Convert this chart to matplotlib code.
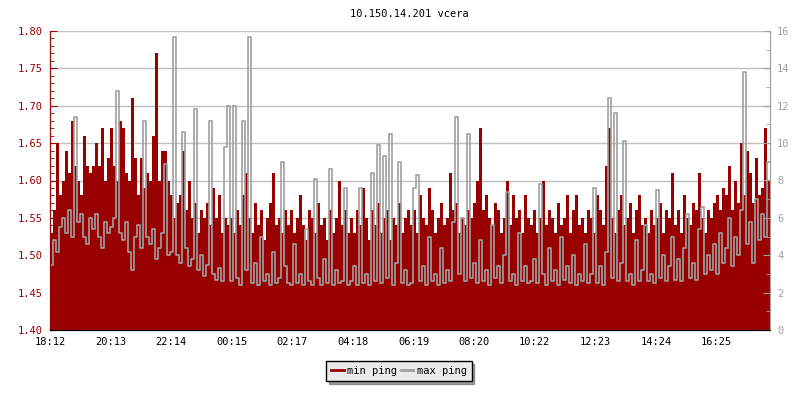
import numpy as np
import matplotlib
matplotlib.use('Agg')
import matplotlib.pyplot as plt
from matplotlib.ticker import MultipleLocator

# one sample every 6 minutes, starting 18:12 (240 samples = 24h)
min_ping = [
    1.53, 1.56, 1.65, 1.58, 1.60, 1.64, 1.61, 1.68, 1.62, 1.60, 1.58, 1.66, 1.62, 1.61, 1.62, 1.65, 1.62, 1.67, 1.60, 1.63,
    1.67, 1.62, 1.60, 1.68, 1.67, 1.61, 1.60, 1.71, 1.63, 1.58, 1.63, 1.59, 1.61, 1.60, 1.66, 1.77, 1.60, 1.64, 1.64, 1.60,
    1.58, 1.55, 1.57, 1.58, 1.64, 1.56, 1.60, 1.55, 1.57, 1.53, 1.56, 1.55, 1.57, 1.54, 1.59, 1.55, 1.58, 1.53, 1.55, 1.54,
    1.55, 1.53, 1.56, 1.54, 1.58, 1.61, 1.55, 1.53, 1.57, 1.54, 1.56, 1.52, 1.55, 1.57, 1.61, 1.54, 1.55, 1.53, 1.56, 1.54,
    1.56, 1.53, 1.55, 1.58, 1.54, 1.52, 1.56, 1.55, 1.53, 1.57, 1.54, 1.55, 1.52, 1.56, 1.53, 1.55, 1.60, 1.54, 1.56, 1.53,
    1.55, 1.53, 1.56, 1.54, 1.59, 1.55, 1.52, 1.56, 1.54, 1.57, 1.53, 1.55, 1.56, 1.52, 1.55, 1.54, 1.57, 1.53, 1.55, 1.56,
    1.54, 1.56, 1.53, 1.58, 1.55, 1.54, 1.59, 1.56, 1.53, 1.55, 1.57, 1.54, 1.55, 1.61, 1.56, 1.57, 1.53, 1.55, 1.54, 1.56,
    1.55, 1.57, 1.60, 1.67, 1.56, 1.58, 1.55, 1.54, 1.57, 1.56, 1.53, 1.55, 1.60, 1.54, 1.58, 1.55, 1.56, 1.53, 1.58, 1.55,
    1.54, 1.56, 1.53, 1.55, 1.60, 1.54, 1.56, 1.55, 1.53, 1.57, 1.54, 1.55, 1.58, 1.53, 1.56, 1.58, 1.54, 1.55, 1.53, 1.56,
    1.55, 1.53, 1.58, 1.56, 1.54, 1.62, 1.67, 1.55, 1.53, 1.56, 1.58, 1.54, 1.55, 1.57, 1.53, 1.56, 1.58, 1.54, 1.55, 1.53,
    1.56, 1.54, 1.55, 1.57, 1.53, 1.56, 1.55, 1.61, 1.54, 1.56, 1.53, 1.58, 1.55, 1.54, 1.57, 1.56, 1.61, 1.55, 1.53, 1.56,
    1.55, 1.57, 1.58, 1.56, 1.59, 1.58, 1.62, 1.56, 1.60, 1.57, 1.65, 1.58, 1.64, 1.61, 1.57, 1.63, 1.58, 1.59, 1.67, 1.60,
]

max_ping = [
    3.5, 4.8, 4.2, 5.5, 6.0, 5.2, 6.4, 5.0, 11.4, 5.8, 6.2, 5.0, 4.6, 6.0, 5.4, 6.2, 5.0, 4.4, 5.8, 5.2,
    5.5, 6.0, 12.8, 5.2, 4.8, 5.8, 4.2, 3.2, 5.0, 5.6, 4.4, 11.2, 5.0, 4.6, 5.4, 3.8, 4.4, 5.2, 8.9, 4.0,
    4.2, 15.7, 4.0, 3.6, 10.6, 4.4, 3.4, 3.8, 11.8, 3.2, 4.0, 2.9, 3.5, 11.2, 3.0, 2.7, 3.3, 2.6, 9.8, 12.0,
    2.6, 12.0, 2.8, 2.4, 11.2, 3.2, 15.7, 2.5, 3.6, 2.4, 5.0, 2.6, 3.0, 2.4, 4.2, 2.5, 2.8, 9.0, 3.4, 2.5,
    2.4, 4.6, 2.5, 3.0, 2.4, 5.4, 2.6, 2.4, 8.1, 2.8, 2.4, 3.8, 2.5, 8.6, 2.4, 3.2, 2.5, 2.6, 7.6, 2.4,
    2.6, 3.4, 2.4, 7.6, 2.5, 3.0, 2.4, 8.4, 2.6, 9.9, 2.5, 9.3, 2.8, 10.5, 2.4, 3.6, 9.0, 2.5, 3.2, 2.4,
    2.5, 7.6, 8.3, 2.6, 3.4, 2.4, 5.0, 2.6, 3.0, 2.4, 4.4, 2.5, 3.2, 2.6, 5.8, 11.4, 3.0, 6.0, 2.6, 10.5,
    2.8, 3.6, 2.5, 4.8, 2.6, 3.2, 2.4, 5.6, 2.8, 3.4, 2.5, 4.0, 7.4, 2.6, 3.0, 2.4, 5.2, 2.6, 3.4, 2.5,
    2.6, 3.8, 2.5, 7.8, 3.0, 2.4, 4.4, 2.6, 3.2, 2.4, 5.0, 2.7, 3.4, 2.5, 4.0, 2.4, 3.0, 2.6, 4.6, 2.5,
    3.0, 7.6, 2.5, 3.4, 2.4, 4.2, 12.4, 2.8, 11.6, 2.6, 3.6, 10.1, 2.6, 3.0, 2.4, 4.8, 2.6, 3.2, 5.6, 2.6,
    3.0, 2.5, 7.5, 2.8, 4.0, 2.6, 3.4, 5.0, 2.7, 3.8, 2.6, 4.4, 6.2, 2.8, 3.6, 2.7, 5.4, 6.6, 3.0, 4.0,
    3.2, 4.6, 3.0, 5.2, 3.6, 4.4, 6.0, 3.4, 5.0, 4.0, 6.4, 13.8, 4.6, 5.8, 3.6, 7.0, 4.8, 6.2, 5.0, 9.0,
]

tick_labels = ['18:12', '20:13', '22:14', '00:15', '02:17', '04:18',
               '06:19', '08:20', '10:22', '12:23', '14:24', '16:25']

STEP_MIN = 6
TICK_STEP_MIN = 121.2
RED = '#990000'
GRAY = '#a0a0a0'
FONT = 'DejaVu Sans Mono'

plt.rcParams['font.family'] = FONT
plt.rcParams['font.size'] = 7.5

t = np.arange(len(min_ping) + 1) * STEP_MIN
red = np.append(min_ping, min_ping[-1])
gray = np.append(max_ping, max_ping[-1])

fig = plt.figure(figsize=(8, 4), dpi=100)
ax = fig.add_axes([0.0625, 0.175, 0.9, 0.7475])
ax2 = ax.twinx()

ax.fill_between(t, 1.40, red, step='post', color=RED, lw=0, label='min ping', zorder=2)
ax2.step(t, gray, where='post', color=GRAY, lw=1.2, label='max ping')

ax.set_xlim(0, t[-1])
ax.set_ylim(1.40, 1.80)
ax2.set_ylim(0, 16)

ax.yaxis.set_major_locator(MultipleLocator(0.05))
ax.yaxis.set_minor_locator(MultipleLocator(0.01))
ax.yaxis.set_major_formatter(lambda v, p: '%.2f' % v)
ax2.yaxis.set_major_locator(MultipleLocator(2))
ax2.yaxis.set_minor_locator(MultipleLocator(1))

ax.set_xticks(np.arange(len(tick_labels)) * TICK_STEP_MIN)
ax.set_xticklabels(tick_labels)

ax.grid(axis='y', color='#c0c0c0', lw=1, zorder=0)
ax.set_axisbelow(True)

ax.tick_params(axis='y', which='both', direction='in', colors=RED, pad=5)
ax.tick_params(axis='y', which='major', length=5)
ax.tick_params(axis='y', which='minor', length=3)
ax.tick_params(axis='x', direction='in', length=5, pad=5, colors='black')
ax2.tick_params(axis='y', which='both', direction='in', colors=GRAY, pad=5)
ax2.tick_params(axis='y', which='major', length=5)
ax2.tick_params(axis='y', which='minor', length=3)

for a in (ax, ax2):
    a.spines['top'].set_visible(False)
    a.spines['left'].set_color(RED)
    a.spines['right'].set_color(GRAY)
    a.spines['bottom'].set_color('black')

fig.text(409 / 800, 1 - 14 / 400, '10.150.14.201 vcera', ha='center', va='center', fontsize=7.5)

h1, l1 = ax.get_legend_handles_labels()
h2, l2 = ax2.get_legend_handles_labels()
handles = [plt.Line2D([], [], color=RED, lw=2), plt.Line2D([], [], color=GRAY, lw=2)]
leg = fig.legend(handles, l1 + l2, loc='center', bbox_to_anchor=(0.4985, 1 - 371 / 400),
                 ncol=2, frameon=True, fancybox=False, shadow=True, edgecolor='black',
                 facecolor='#ebebeb', framealpha=1, handlelength=1.2, handletextpad=0.3,
                 columnspacing=0.4, borderpad=0.5, fontsize=7.5)
leg.get_frame().set_linewidth(1)

fig.savefig('out.png', dpi=100)
